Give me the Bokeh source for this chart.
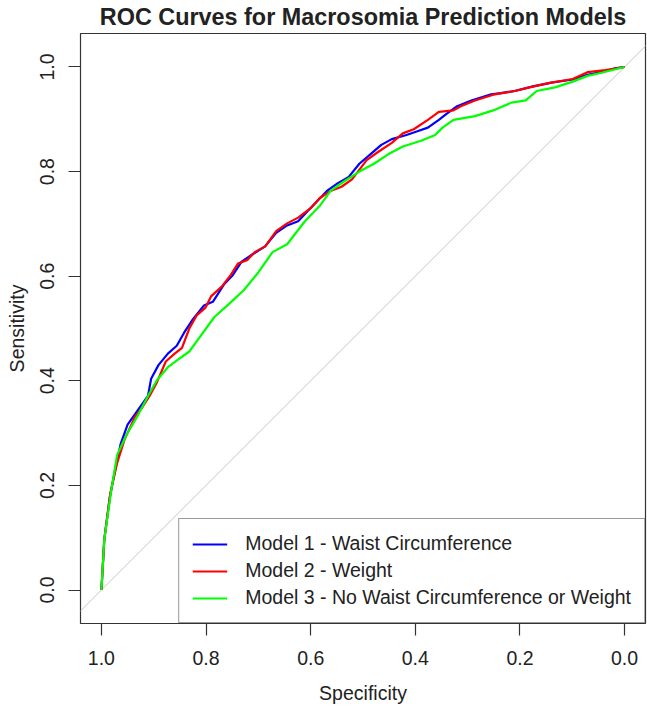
from bokeh.plotting import figure
from bokeh.models import (Range1d, FixedTicker, PrintfTickFormatter, Slope,
                          Legend, LegendItem, LinearAxis)
from bokeh.embed import file_html
from bokeh.resources import INLINE

# ROC coordinates (specificity, sensitivity) for each model
spec_m1 = [1.000, 0.9945, 0.984, 0.974, 0.963, 0.950, 0.929, 0.911, 0.905, 0.891,
           0.873, 0.856, 0.842, 0.825, 0.804, 0.787, 0.766, 0.749, 0.732, 0.711,
           0.687, 0.666, 0.645, 0.624, 0.607, 0.590, 0.569, 0.548, 0.528, 0.507,
           0.486, 0.465, 0.445, 0.417, 0.396, 0.376, 0.355, 0.341, 0.320, 0.293,
           0.258, 0.237, 0.210, 0.175, 0.140, 0.099, 0.071, 0.044, 0.016, 0.000]
sens_m1 = [0.000, 0.097, 0.177, 0.229, 0.280, 0.316, 0.346, 0.371, 0.404, 0.430,
           0.452, 0.467, 0.492, 0.518, 0.544, 0.551, 0.584, 0.602, 0.628, 0.642,
           0.657, 0.683, 0.697, 0.705, 0.723, 0.741, 0.763, 0.778, 0.789, 0.815,
           0.833, 0.851, 0.862, 0.870, 0.877, 0.884, 0.899, 0.910, 0.925, 0.936,
           0.947, 0.950, 0.954, 0.963, 0.970, 0.976, 0.985, 0.990, 0.998, 1.000]

spec_m2 = [1.000, 0.9945, 0.983, 0.970, 0.956, 0.936, 0.922, 0.908, 0.894, 0.877,
           0.860, 0.846, 0.832, 0.818, 0.801, 0.790, 0.770, 0.753, 0.739, 0.721,
           0.707, 0.687, 0.666, 0.645, 0.624, 0.600, 0.583, 0.562, 0.541, 0.521,
           0.493, 0.472, 0.445, 0.424, 0.403, 0.376, 0.355, 0.327, 0.313, 0.286,
           0.251, 0.210, 0.182, 0.140, 0.099, 0.071, 0.037, 0.000]
sens_m2 = [0.000, 0.097, 0.185, 0.243, 0.287, 0.331, 0.349, 0.371, 0.397, 0.437,
           0.452, 0.463, 0.500, 0.525, 0.540, 0.562, 0.580, 0.602, 0.624, 0.631,
           0.646, 0.657, 0.686, 0.701, 0.712, 0.730, 0.749, 0.763, 0.771, 0.785,
           0.822, 0.837, 0.855, 0.873, 0.881, 0.899, 0.914, 0.917, 0.925, 0.936,
           0.947, 0.954, 0.961, 0.970, 0.977, 0.990, 0.994, 1.000]

spec_m3 = [1.000, 0.9945, 0.981, 0.970, 0.953, 0.932, 0.911, 0.894, 0.873, 0.853,
           0.832, 0.811, 0.784, 0.756, 0.728, 0.701, 0.673, 0.645, 0.611, 0.583,
           0.562, 0.535, 0.507, 0.479, 0.452, 0.424, 0.389, 0.362, 0.348, 0.327,
           0.286, 0.251, 0.216, 0.189, 0.168, 0.133, 0.099, 0.071, 0.044, 0.000]
sens_m3 = [0.000, 0.097, 0.192, 0.258, 0.295, 0.331, 0.371, 0.401, 0.426, 0.441,
           0.456, 0.485, 0.522, 0.547, 0.573, 0.606, 0.646, 0.661, 0.705, 0.734,
           0.763, 0.782, 0.800, 0.815, 0.833, 0.848, 0.859, 0.870, 0.884, 0.899,
           0.906, 0.917, 0.932, 0.936, 0.954, 0.961, 0.972, 0.983, 0.989, 1.000]

model_labels = ["Model 1 - Waist Circumference",
                "Model 2 - Weight",
                "Model 3 - No Waist Circumference or Weight"]
model_colors = ["#0000FF", "#FF0000", "#00FF00"]

tick_values = [0.0, 0.2, 0.4, 0.6, 0.8, 1.0]

chart_title = "ROC Curves for Macrosomia Prediction Models"

FONT = "Liberation Sans"
INK = "#222222"
BOX = "#333333"

p = figure(width=647, height=708, output_backend="svg", toolbar_location=None,
           title=None,
           x_range=Range1d(1.04, -0.04), y_range=Range1d(-0.064, 1.064),
           min_border_left=80, min_border_right=2, min_border_top=33,
           min_border_bottom=85, background_fill_color="white",
           border_fill_color="white", outline_line_color=BOX,
           outline_line_width=1.2)

p.xgrid.visible = False
p.ygrid.visible = False

x_axis = p.below[0]
y_axis = p.left[0]

for ax, label in ((x_axis, "Specificity"), (y_axis, "Sensitivity")):
    ax.axis_label = label
    ax.axis_label_text_font = FONT
    ax.axis_label_text_font_size = "19.5px"
    ax.axis_label_text_font_style = "normal"
    ax.axis_label_text_color = INK
    ax.ticker = FixedTicker(ticks=tick_values)
    ax.formatter = PrintfTickFormatter(format="%.1f")
    ax.major_label_text_font = FONT
    ax.major_label_text_font_size = "19.5px"
    ax.major_label_text_color = INK
    ax.axis_line_color = None
    ax.major_tick_in = 0
    ax.major_tick_out = 12
    ax.major_tick_line_color = BOX
    ax.major_tick_line_width = 1.2
    ax.minor_tick_line_color = None

x_axis.major_label_standoff = 15
x_axis.axis_label_standoff = 14
y_axis.major_label_standoff = 14
y_axis.axis_label_standoff = 10
y_axis.major_label_orientation = "vertical"

# main title: carried by a bare axis along the top of the box, so it sits
# tight above the plotting region, centred over it
title_axis = LinearAxis(ticker=FixedTicker(ticks=[]), axis_label=chart_title,
                        axis_label_text_font=FONT,
                        axis_label_text_font_size="23.4px",
                        axis_label_text_font_style="bold",
                        axis_label_text_color=INK, axis_label_standoff=4,
                        axis_line_color=None, major_tick_out=0,
                        major_tick_in=0, minor_tick_out=0, minor_tick_in=0,
                        major_label_standoff=0, major_label_text_font_size="0px")
p.add_layout(title_axis, "above")

# reference diagonal (chance line)
p.add_layout(Slope(gradient=-1, y_intercept=1, line_color="#c4c4c4",
                   line_width=1, level="underlay"))

renderers = []
for xs, ys, color in ((spec_m1, sens_m1, model_colors[0]),
                      (spec_m2, sens_m2, model_colors[1]),
                      (spec_m3, sens_m3, model_colors[2])):
    renderers.append(p.line(xs, ys, line_color=color, line_width=2.2))

legend = Legend(items=[LegendItem(label=lab, renderers=[r])
                       for lab, r in zip(model_labels, renderers)],
                location="bottom_right", margin=0, padding=13, spacing=4,
                glyph_width=35, glyph_height=20, label_standoff=18,
                label_text_font=FONT, label_text_font_size="19.5px",
                label_text_color=INK, border_line_color=BOX,
                border_line_width=1.2, background_fill_color="white",
                background_fill_alpha=1.0)
p.add_layout(legend)

open("out.html", "w").write(file_html(p, INLINE))
